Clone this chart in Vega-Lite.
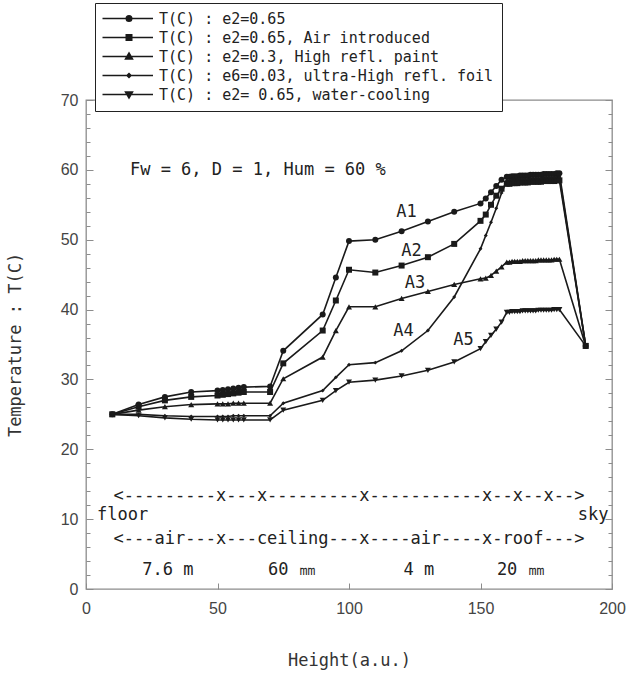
{
  "$schema": "https://vega.github.io/schema/vega-lite/v6.json",
  "width": 526,
  "height": 489,
  "autosize": {"type": "none"},
  "padding": {"left": 86, "top": 100, "right": 20, "bottom": 85},
  "background": "white",
  "config": {
    "view": {"stroke": "#8c8c8c", "strokeWidth": 1.3},
    "font": "DejaVu Sans Mono"
  },
  "datasets": {
    "temps": [
      {"s":"A1","h":10,"T":25},{"s":"A1","h":20,"T":26.4},{"s":"A1","h":30,"T":27.5},{"s":"A1","h":40,"T":28.2},{"s":"A1","h":50,"T":28.4},{"s":"A1","h":52,"T":28.5},{"s":"A1","h":54,"T":28.6},{"s":"A1","h":56,"T":28.7},{"s":"A1","h":58,"T":28.8},{"s":"A1","h":60,"T":28.9},{"s":"A1","h":70,"T":29.0},{"s":"A1","h":75,"T":34.1},{"s":"A1","h":90,"T":39.3},{"s":"A1","h":95,"T":44.6},{"s":"A1","h":100,"T":49.8},{"s":"A1","h":110,"T":50.0},{"s":"A1","h":120,"T":51.2},{"s":"A1","h":130,"T":52.6},{"s":"A1","h":140,"T":54.0},{"s":"A1","h":150,"T":55.2},{"s":"A1","h":152,"T":55.9},{"s":"A1","h":154,"T":56.8},{"s":"A1","h":156,"T":57.7},{"s":"A1","h":158,"T":58.6},
      {"s":"A1","h":160,"T":59.0},{"s":"A1","h":161,"T":59.0},{"s":"A1","h":162,"T":59.1},{"s":"A1","h":163,"T":59.1},{"s":"A1","h":164,"T":59.1},{"s":"A1","h":165,"T":59.2},{"s":"A1","h":166,"T":59.2},{"s":"A1","h":167,"T":59.2},{"s":"A1","h":168,"T":59.2},{"s":"A1","h":169,"T":59.3},{"s":"A1","h":170,"T":59.3},{"s":"A1","h":171,"T":59.3},{"s":"A1","h":172,"T":59.3},{"s":"A1","h":173,"T":59.3},{"s":"A1","h":174,"T":59.4},{"s":"A1","h":175,"T":59.4},{"s":"A1","h":176,"T":59.4},{"s":"A1","h":177,"T":59.4},{"s":"A1","h":178,"T":59.4},{"s":"A1","h":179,"T":59.5},{"s":"A1","h":180,"T":59.5},{"s":"A1","h":190,"T":34.8},
      {"s":"A2","h":10,"T":25},{"s":"A2","h":20,"T":26.1},{"s":"A2","h":30,"T":27.0},{"s":"A2","h":40,"T":27.5},{"s":"A2","h":50,"T":27.7},{"s":"A2","h":52,"T":27.8},{"s":"A2","h":54,"T":27.9},{"s":"A2","h":56,"T":28.0},{"s":"A2","h":58,"T":28.1},{"s":"A2","h":60,"T":28.2},{"s":"A2","h":70,"T":28.2},{"s":"A2","h":75,"T":32.3},{"s":"A2","h":90,"T":37.0},{"s":"A2","h":95,"T":41.3},{"s":"A2","h":100,"T":45.7},{"s":"A2","h":110,"T":45.3},{"s":"A2","h":120,"T":46.3},{"s":"A2","h":130,"T":47.5},{"s":"A2","h":140,"T":49.4},{"s":"A2","h":150,"T":52.7},{"s":"A2","h":152,"T":53.6},{"s":"A2","h":154,"T":55.0},{"s":"A2","h":156,"T":56.3},{"s":"A2","h":158,"T":57.3},
      {"s":"A2","h":160,"T":58.0},{"s":"A2","h":161,"T":58.0},{"s":"A2","h":162,"T":58.1},{"s":"A2","h":163,"T":58.1},{"s":"A2","h":164,"T":58.1},{"s":"A2","h":165,"T":58.2},{"s":"A2","h":166,"T":58.2},{"s":"A2","h":167,"T":58.2},{"s":"A2","h":168,"T":58.2},{"s":"A2","h":169,"T":58.3},{"s":"A2","h":170,"T":58.3},{"s":"A2","h":171,"T":58.3},{"s":"A2","h":172,"T":58.3},{"s":"A2","h":173,"T":58.3},{"s":"A2","h":174,"T":58.4},{"s":"A2","h":175,"T":58.4},{"s":"A2","h":176,"T":58.4},{"s":"A2","h":177,"T":58.4},{"s":"A2","h":178,"T":58.4},{"s":"A2","h":179,"T":58.5},{"s":"A2","h":180,"T":58.5},{"s":"A2","h":190,"T":34.8},
      {"s":"A3","h":10,"T":25},{"s":"A3","h":20,"T":25.6},{"s":"A3","h":30,"T":26.1},{"s":"A3","h":40,"T":26.4},{"s":"A3","h":50,"T":26.5},{"s":"A3","h":52,"T":26.5},{"s":"A3","h":54,"T":26.5},{"s":"A3","h":56,"T":26.6},{"s":"A3","h":58,"T":26.6},{"s":"A3","h":60,"T":26.6},{"s":"A3","h":70,"T":26.6},{"s":"A3","h":75,"T":30.1},{"s":"A3","h":90,"T":33.2},{"s":"A3","h":95,"T":37.0},{"s":"A3","h":100,"T":40.4},{"s":"A3","h":110,"T":40.4},{"s":"A3","h":120,"T":41.6},{"s":"A3","h":130,"T":42.6},{"s":"A3","h":140,"T":43.6},{"s":"A3","h":150,"T":44.4},{"s":"A3","h":152,"T":44.5},{"s":"A3","h":154,"T":44.9},{"s":"A3","h":156,"T":45.5},{"s":"A3","h":158,"T":46.1},
      {"s":"A3","h":160,"T":46.8},{"s":"A3","h":161,"T":46.8},{"s":"A3","h":162,"T":46.9},{"s":"A3","h":163,"T":46.9},{"s":"A3","h":164,"T":46.9},{"s":"A3","h":165,"T":46.9},{"s":"A3","h":166,"T":47.0},{"s":"A3","h":167,"T":47.0},{"s":"A3","h":168,"T":47.0},{"s":"A3","h":169,"T":47.0},{"s":"A3","h":170,"T":47.0},{"s":"A3","h":171,"T":47.0},{"s":"A3","h":172,"T":47.1},{"s":"A3","h":173,"T":47.1},{"s":"A3","h":174,"T":47.1},{"s":"A3","h":175,"T":47.1},{"s":"A3","h":176,"T":47.1},{"s":"A3","h":177,"T":47.1},{"s":"A3","h":178,"T":47.2},{"s":"A3","h":179,"T":47.2},{"s":"A3","h":180,"T":47.2},{"s":"A3","h":190,"T":34.8},
      {"s":"A4","h":10,"T":25},{"s":"A4","h":20,"T":25.0},{"s":"A4","h":30,"T":24.8},{"s":"A4","h":40,"T":24.7},{"s":"A4","h":50,"T":24.7},{"s":"A4","h":52,"T":24.7},{"s":"A4","h":54,"T":24.7},{"s":"A4","h":56,"T":24.8},{"s":"A4","h":58,"T":24.8},{"s":"A4","h":60,"T":24.8},{"s":"A4","h":70,"T":24.8},{"s":"A4","h":75,"T":26.6},{"s":"A4","h":90,"T":28.4},{"s":"A4","h":95,"T":30.3},{"s":"A4","h":100,"T":32.1},{"s":"A4","h":110,"T":32.4},{"s":"A4","h":120,"T":34.1},{"s":"A4","h":130,"T":37.0},{"s":"A4","h":140,"T":41.8},{"s":"A4","h":150,"T":48.7},{"s":"A4","h":152,"T":50.6},{"s":"A4","h":154,"T":52.5},{"s":"A4","h":156,"T":54.5},{"s":"A4","h":158,"T":56.7},
      {"s":"A4","h":160,"T":58.5},{"s":"A4","h":161,"T":58.5},{"s":"A4","h":162,"T":58.6},{"s":"A4","h":163,"T":58.6},{"s":"A4","h":164,"T":58.6},{"s":"A4","h":165,"T":58.7},{"s":"A4","h":166,"T":58.7},{"s":"A4","h":167,"T":58.7},{"s":"A4","h":168,"T":58.7},{"s":"A4","h":169,"T":58.8},{"s":"A4","h":170,"T":58.8},{"s":"A4","h":171,"T":58.8},{"s":"A4","h":172,"T":58.8},{"s":"A4","h":173,"T":58.8},{"s":"A4","h":174,"T":58.9},{"s":"A4","h":175,"T":58.9},{"s":"A4","h":176,"T":58.9},{"s":"A4","h":177,"T":58.9},{"s":"A4","h":178,"T":58.9},{"s":"A4","h":179,"T":59.0},{"s":"A4","h":180,"T":59.0},{"s":"A4","h":190,"T":34.8},
      {"s":"A5","h":10,"T":25},{"s":"A5","h":20,"T":24.8},{"s":"A5","h":30,"T":24.5},{"s":"A5","h":40,"T":24.3},{"s":"A5","h":50,"T":24.2},{"s":"A5","h":52,"T":24.2},{"s":"A5","h":54,"T":24.2},{"s":"A5","h":56,"T":24.2},{"s":"A5","h":58,"T":24.2},{"s":"A5","h":60,"T":24.2},{"s":"A5","h":70,"T":24.2},{"s":"A5","h":75,"T":25.6},{"s":"A5","h":90,"T":27.0},{"s":"A5","h":95,"T":28.4},{"s":"A5","h":100,"T":29.6},{"s":"A5","h":110,"T":29.9},{"s":"A5","h":120,"T":30.5},{"s":"A5","h":130,"T":31.3},{"s":"A5","h":140,"T":32.5},{"s":"A5","h":150,"T":34.4},{"s":"A5","h":152,"T":35.4},{"s":"A5","h":154,"T":36.3},{"s":"A5","h":156,"T":37.2},{"s":"A5","h":158,"T":38.2},
      {"s":"A5","h":160,"T":39.6},{"s":"A5","h":161,"T":39.6},{"s":"A5","h":162,"T":39.7},{"s":"A5","h":163,"T":39.7},{"s":"A5","h":164,"T":39.7},{"s":"A5","h":165,"T":39.7},{"s":"A5","h":166,"T":39.8},{"s":"A5","h":167,"T":39.8},{"s":"A5","h":168,"T":39.8},{"s":"A5","h":169,"T":39.8},{"s":"A5","h":170,"T":39.8},{"s":"A5","h":171,"T":39.8},{"s":"A5","h":172,"T":39.9},{"s":"A5","h":173,"T":39.9},{"s":"A5","h":174,"T":39.9},{"s":"A5","h":175,"T":39.9},{"s":"A5","h":176,"T":39.9},{"s":"A5","h":177,"T":39.9},{"s":"A5","h":178,"T":40.0},{"s":"A5","h":179,"T":40.0},{"s":"A5","h":180,"T":40.0},{"s":"A5","h":190,"T":34.8}
    ],
    "centerText": [
      {"h":121.9,"T":53.9,"label":"A1"},
      {"h":123.8,"T":48.4,"label":"A2"},
      {"h":125.1,"T":43.8,"label":"A3"},
      {"h":120.7,"T":37.0,"label":"A4"},
      {"h":143.5,"T":35.6,"label":"A5"},
      {"h":100,"T":13.3,"label":"<---------x---x---------x-----------x--x--x-->"},
      {"h":100,"T":7.2,"label":"<---air---x---ceiling---x----air----x-roof--->"},
      {"h":31.1,"T":2.7,"label":"7.6 m"},
      {"h":78.3,"T":2.7,"label":"60 ㎜"},
      {"h":126.6,"T":2.7,"label":"4 m"},
      {"h":165.3,"T":2.7,"label":"20 ㎜"}
    ],
    "leftText": [
      {"h":16.7,"T":60,"label":"Fw = 6, D = 1, Hum = 60 %"},
      {"h":4.2,"T":10.6,"label":"floor"}
    ],
    "rightText": [
      {"h":198.7,"T":10.6,"label":"sky"}
    ]
  },
  "encoding": {
    "x": {
      "field": "h",
      "type": "quantitative",
      "scale": {"domain": [0, 200], "nice": false},
      "axis": {
        "values": [0, 50, 100, 150, 200],
        "tickSize": -6,
        "tickColor": "#8c8c8c",
        "domain": false,
        "grid": false,
        "labelFont": "Liberation Sans",
        "labelFontSize": 16,
        "labelColor": "#444444",
        "labelPadding": 17,
        "labelFlush": false,
        "title": "Height(a.u.)",
        "titleFont": "DejaVu Sans Mono",
        "titleFontSize": 17,
        "titleFontWeight": "normal",
        "titleColor": "#333333",
        "titlePadding": 36
      }
    }
  },
  "layer": [
    {
      "data": {"name": "temps"},
      "mark": {"type": "line", "color": "#1a1a1a", "strokeWidth": 1.6},
      "encoding": {
        "y": {
          "field": "T",
          "type": "quantitative",
          "scale": {"domain": [0, 70], "nice": false},
          "axis": {
            "values": [0,2,4,6,8,10,12,14,16,18,20,22,24,26,28,30,32,34,36,38,40,42,44,46,48,50,52,54,56,58,60,62,64,66,68,70],
            "tickSize": {"condition": {"test": "datum.value % 10 === 0", "value": -7}, "value": -4},
            "tickColor": "#8c8c8c",
            "labelExpr": "datum.value % 10 === 0 ? datum.label : ''",
            "domain": false,
            "grid": false,
            "labelFont": "Liberation Sans",
            "labelFontSize": 16,
            "labelColor": "#444444",
            "labelPadding": 15,
            "title": "Temperature : T(C)",
            "titleFont": "DejaVu Sans Mono",
            "titleFontSize": 17,
            "titleFontWeight": "normal",
            "titleColor": "#333333",
            "titlePadding": 36
          }
        },
        "detail": {"field": "s"}
      }
    },
    {
      "data": {"name": "temps"},
      "mark": {"type": "point", "filled": true, "color": "#1a1a1a", "opacity": 1, "size": 36},
      "encoding": {
        "y": {
          "field": "T",
          "type": "quantitative",
          "scale": {"domain": [0, 70], "nice": false},
          "axis": {
            "orient": "right",
            "values": [0,2,4,6,8,10,12,14,16,18,20,22,24,26,28,30,32,34,36,38,40,42,44,46,48,50,52,54,56,58,60,62,64,66,68,70],
            "tickSize": {"condition": {"test": "datum.value % 10 === 0", "value": -7}, "value": -4},
            "tickColor": "#8c8c8c",
            "labels": false,
            "domain": false,
            "grid": false,
            "title": null
          }
        },
        "shape": {
          "field": "s",
          "type": "nominal",
          "scale": {"domain": ["A1","A2","A3","A4","A5"], "range": ["circle","square","triangle-up","M0,-0.65L0.65,0L0,0.65L-0.65,0Z","triangle-down"]},
          "legend": null
        }
      }
    },
    {
      "data": {"name": "temps"},
      "transform": [{"filter": "datum.h == 10"}],
      "mark": {"type": "point", "filled": false, "fill": "#1a1a1a", "stroke": "#1a1a1a", "strokeWidth": 1.5, "opacity": 0},
      "encoding": {
        "y": {"field": "T", "type": "quantitative", "scale": {"domain": [0, 70], "nice": false}, "axis": null},
        "shape": {
          "field": "s",
          "type": "nominal",
          "scale": {"domain": ["A1","A2","A3","A4","A5"], "range": [
            "M-1.6,0H8.5M4.25,0A0.55,0.55,0,1,1,3.15,0A0.55,0.55,0,1,1,4.25,0Z",
            "M-1.6,0H8.5M3.15,-0.55H4.25V0.55H3.15Z",
            "M-1.6,0H8.5M3.7,-0.7L4.4,0.5H3Z",
            "M-1.6,0H8.5M3.7,-0.4L4.1,0L3.7,0.4L3.3,0Z",
            "M-1.6,0H8.5M3,-0.5H4.4L3.7,0.7Z"
          ]},
          "legend": {
            "orient": "none",
            "legendX": 9,
            "legendY": -97,
            "title": null,
            "strokeColor": "#222222",
            "fillColor": "white",
            "padding": 8,
            "rowPadding": 3,
            "labelFont": "DejaVu Sans Mono",
            "labelFontSize": 15,
            "labelColor": "#222222",
            "labelOffset": 41,
            "labelLimit": 600,
            "symbolSize": 100,
            "symbolOpacity": 1,
            "symbolStrokeWidth": 1.5,
            "labelExpr": "['T(C) : e2=0.65','T(C) : e2=0.65, Air introduced','T(C) : e2=0.3, High refl. paint','T(C) : e6=0.03, ultra-High refl. foil','T(C) : e2= 0.65, water-cooling'][indexof(['A1','A2','A3','A4','A5'], datum.value)]"
          }
        }
      }
    },
    {
      "data": {"name": "centerText"},
      "mark": {"type": "text", "font": "DejaVu Sans Mono", "fontSize": 17, "color": "#222222", "align": "center", "baseline": "middle"},
      "encoding": {
        "y": {"field": "T", "type": "quantitative", "scale": {"domain": [0, 70], "nice": false}, "axis": null},
        "text": {"field": "label"}
      }
    },
    {
      "data": {"name": "leftText"},
      "mark": {"type": "text", "font": "DejaVu Sans Mono", "fontSize": 17, "color": "#222222", "align": "left", "baseline": "middle"},
      "encoding": {
        "y": {"field": "T", "type": "quantitative", "scale": {"domain": [0, 70], "nice": false}, "axis": null},
        "text": {"field": "label"}
      }
    },
    {
      "data": {"name": "rightText"},
      "mark": {"type": "text", "font": "DejaVu Sans Mono", "fontSize": 17, "color": "#222222", "align": "right", "baseline": "middle"},
      "encoding": {
        "y": {"field": "T", "type": "quantitative", "scale": {"domain": [0, 70], "nice": false}, "axis": null},
        "text": {"field": "label"}
      }
    }
  ],
  "resolve": {"axis": {"y": "independent"}, "scale": {"shape": "independent"}, "legend": {"shape": "independent"}}
}
